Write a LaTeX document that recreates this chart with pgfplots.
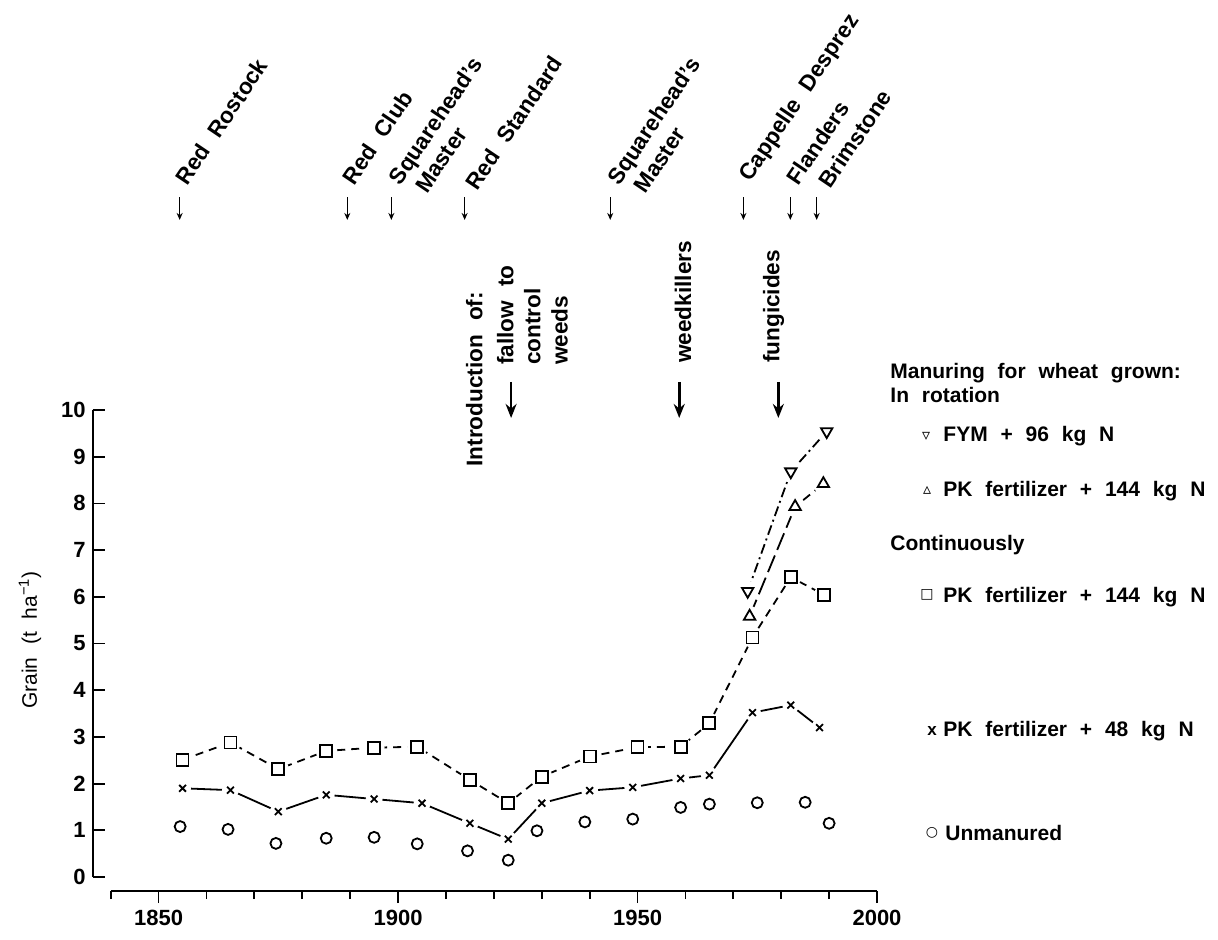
\documentclass[border=0pt]{standalone}
\usepackage{fontspec}
\setmainfont{Liberation Sans}[WordSpace=2.2]
\newfontfamily\symfont{DejaVu Sans}
\usepackage{pgfplots}
\pgfplotsset{compat=1.18}
\usepackage{pgfplotstable}
\usetikzlibrary{arrows.meta}

% Continuously, PK + 144 kg N (squares)
\pgfplotstableread{
year val
1855 2.51
1865 2.88
1875 2.31
1885 2.70
1895 2.77
1904 2.79
1915 2.08
1923 1.58
1930 2.15
1940 2.58
1950 2.78
1959 2.79
1965 3.29
1974 5.13
1982 6.42
1989 6.04
}\contsq

% Continuously, PK + 48 kg N (x)
\pgfplotstableread{
year val
1855 1.90
1865 1.86
1875 1.40
1885 1.76
1895 1.67
1905 1.58
1915 1.15
1923 0.81
1930 1.58
1940 1.85
1949 1.92
1959 2.11
1965 2.18
1974 3.52
1982 3.68
1988 3.20
}\contx

% Unmanured (circles)
\pgfplotstableread{
year val
1854.5 1.08
1864.5 1.02
1874.5 0.72
1885 0.83
1895 0.85
1904 0.71
1914.5 0.56
1923 0.36
1929 0.99
1939 1.18
1949 1.24
1959 1.49
1965 1.56
1975 1.59
1985 1.60
1990 1.15
}\unman

% In rotation, FYM + 96 kg N (down triangles)
\pgfplotstableread{
year val
1973 6.12
1982 8.68
1989.5 9.54
}\fym

% In rotation, PK + 144 kg N (up triangles)
\pgfplotstableread{
year val
1973.4 5.58
1982.9 7.93
1988.8 8.42
}\rotpk

\newcommand\varfont{\fontsize{11.3}{13.5}\selectfont\bfseries}
\newcommand\legfont{\fontsize{10.5}{12.5}\selectfont\bfseries}

\begin{document}
\begin{tikzpicture}
\path[use as bounding box] (0pt,0pt) rectangle (609pt,469.5pt);
\begin{axis}[
  at={(55.35pt,31pt)}, anchor=south west,
  scale only axis, width=383.15pt, height=233.5pt,
  xmin=1840, xmax=2000, ymin=0, ymax=10,
  axis x line*=bottom, axis y line*=left,
  axis x line shift=7pt, axis y line shift=9pt,
  axis line style={line width=0.9pt, black},
  xtick={1850,1900,1950,2000},
  minor xtick={1840,1860,1870,1880,1890,1910,1920,1930,1940,1960,1970,1980,1990},
  ytick={0,1,...,10},
  xtick align=outside, ytick align=inside,
  major tick length=6pt, minor tick length=4pt,
  tick style={line width=0.9pt, black},
  /pgf/number format/assume math mode=true,
  /pgf/number format/1000 sep={},
  xticklabel style={font=\fontsize{11}{13}\selectfont\bfseries},
  yticklabel style={font=\fontsize{11}{13}\selectfont\bfseries},
  clip=false,
]
% lines
\addplot[black, line width=0.9pt, dash pattern=on 4pt off 3pt] table {\contsq};
\addplot[black, line width=0.9pt] table {\contx};
\addplot[black, line width=0.9pt, dash pattern=on 5pt off 2pt on 1pt off 2pt] table {\fym};
\addplot[black, line width=0.9pt, dash pattern=on 9pt off 3pt] table {\rotpk};
% white halos so that lines stop short of the markers
\addplot[only marks, mark=*, mark size=5pt, mark options={draw=white, fill=white}] table {\contsq};
\addplot[only marks, mark=*, mark size=4pt, mark options={draw=white, fill=white}] table {\contx};
\addplot[only marks, mark=*, mark size=5pt, mark options={draw=white, fill=white}] table {\fym};
\addplot[only marks, mark=*, mark size=5pt, mark options={draw=white, fill=white}] table {\rotpk};
% markers
\addplot[only marks, mark=square, mark size=3pt, mark options={line width=0.9pt, black}] table {\contsq};
\addplot[only marks, mark=x, mark size=2.4pt, mark options={line width=0.9pt, black}] table {\contx};
\addplot[only marks, mark=o, mark size=2.75pt, mark options={line width=0.9pt, black}] table {\unman};
\addplot[only marks, mark=triangle, mark size=3.3pt, mark options={rotate=180, line width=0.9pt, black}] table {\fym};
\addplot[only marks, mark=triangle, mark size=3.3pt, mark options={line width=0.9pt, black}] table {\rotpk};

% variety arrows
\draw[line width=0.7pt, -{Stealth[length=3.5pt,width=3pt]}] (axis cs:1854.4,14.56) -- (axis cs:1854.4,14.07);
\draw[line width=0.7pt, -{Stealth[length=3.5pt,width=3pt]}] (axis cs:1889.4,14.56) -- (axis cs:1889.4,14.07);
\draw[line width=0.7pt, -{Stealth[length=3.5pt,width=3pt]}] (axis cs:1898.6,14.56) -- (axis cs:1898.6,14.07);
\draw[line width=0.7pt, -{Stealth[length=3.5pt,width=3pt]}] (axis cs:1913.9,14.56) -- (axis cs:1913.9,14.07);
\draw[line width=0.7pt, -{Stealth[length=3.5pt,width=3pt]}] (axis cs:1944.3,14.56) -- (axis cs:1944.3,14.07);
\draw[line width=0.7pt, -{Stealth[length=3.5pt,width=3pt]}] (axis cs:1972.1,14.56) -- (axis cs:1972.1,14.07);
\draw[line width=0.7pt, -{Stealth[length=3.5pt,width=3pt]}] (axis cs:1981.9,14.56) -- (axis cs:1981.9,14.07);
\draw[line width=0.7pt, -{Stealth[length=3.5pt,width=3pt]}] (axis cs:1987.4,14.56) -- (axis cs:1987.4,14.07);
% variety names
\tikzset{varlbl/.style={rotate=56, anchor=base west, inner sep=0pt, font=\varfont}}
\node[varlbl] at (axis cs:1856.0,14.78) {Red Rostock};
\node[varlbl] at (axis cs:1890.8,14.78) {Red Club};
\node[varlbl] at (axis cs:1900.5,14.78) {Squarehead’s};
\node[varlbl, xshift=4.1pt, yshift=-13.3pt] at (axis cs:1900.5,14.78) {Master};
\node[varlbl] at (axis cs:1916.5,14.67) {Red Standard};
\node[varlbl] at (axis cs:1946.1,14.78) {Squarehead’s};
\node[varlbl, xshift=4.1pt, yshift=-13.3pt] at (axis cs:1946.1,14.78) {Master};
\node[varlbl] at (axis cs:1973.5,14.86) {Cappelle Desprez};
\node[varlbl] at (axis cs:1983.5,14.78) {Flanders};
\node[varlbl] at (axis cs:1990.2,14.71) {Brimstone};

% introduction of practices
\tikzset{vlbl/.style={rotate=90, anchor=base west, inner sep=0pt, font=\varfont}}
\node[vlbl] at (axis cs:1917.6,8.78) {Introduction of:};
\node[vlbl] at (axis cs:1924.1,10.96) {fallow to};
\node[vlbl] at (axis cs:1929.7,10.96) {control};
\node[vlbl] at (axis cs:1935.4,10.96) {weeds};
\node[vlbl] at (axis cs:1961.2,11.0) {weedkillers};
\node[vlbl] at (axis cs:1979.6,11.0) {fungicides};
\draw[line width=1.3pt, -{Stealth[length=7pt,width=5.5pt]}] (axis cs:1923.6,10.6) -- (axis cs:1923.6,9.83);
\draw[line width=1.3pt, -{Stealth[length=7pt,width=5.5pt]}] (axis cs:1958.7,10.6) -- (axis cs:1958.7,9.83);
\draw[line width=1.3pt, -{Stealth[length=7pt,width=5.5pt]}] (axis cs:1979.4,10.6) -- (axis cs:1979.4,9.83);
\end{axis}

% y axis title
\node[rotate=90, font=\fontsize{10.5}{12}\selectfont] at (15pt,149.5pt) {Grain (t ha\textsuperscript{−1})};

% key
\node[anchor=base west, inner sep=0pt, font=\legfont] at (445pt,280.5pt) {Manuring for wheat grown:};
\node[anchor=base west, inner sep=0pt, font=\legfont] at (445pt,268.5pt) {In rotation};
\node[inner sep=0pt, font=\symfont\fontsize{8}{9}\selectfont] at (463pt,251.5pt) {▿};
\node[anchor=base west, inner sep=0pt, font=\legfont] at (471.5pt,248.65pt) {FYM + 96 kg N};
\node[inner sep=0pt, font=\symfont\fontsize{8}{9}\selectfont] at (463.5pt,224.5pt) {▵};
\node[anchor=base west, inner sep=0pt, font=\legfont] at (471.5pt,221.5pt) {PK fertilizer + 144 kg N};
\node[anchor=base west, inner sep=0pt, font=\legfont] at (445pt,194.5pt) {Continuously};
\node[inner sep=0pt, font=\symfont\fontsize{7}{8}\selectfont] at (463.5pt,172pt) {□};
\node[anchor=base west, inner sep=0pt, font=\legfont] at (471.5pt,168.15pt) {PK fertilizer + 144 kg N};
\node[inner sep=0pt, font=\fontsize{8.5}{10}\selectfont\bfseries] at (466pt,104pt) {x};
\node[anchor=base west, inner sep=0pt, font=\legfont] at (471.5pt,101.5pt) {PK fertilizer + 48 kg N};
\node[inner sep=0pt, font=\symfont\fontsize{7}{8}\selectfont] at (466pt,53pt) {○};
\node[anchor=base west, inner sep=0pt, font=\legfont] at (472.5pt,49.5pt) {Unmanured};
\end{tikzpicture}
\end{document}
